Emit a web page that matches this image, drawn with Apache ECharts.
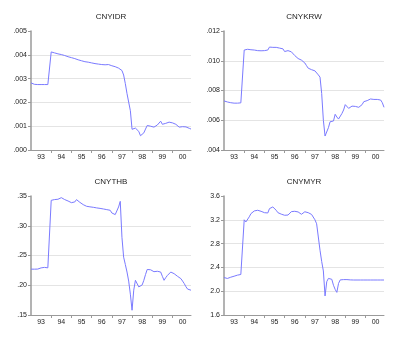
<!DOCTYPE html>
<html>
<head>
<meta charset="utf-8">
<script src="https://cdn.jsdelivr.net/npm/echarts@6/dist/echarts.min.js"></script>
<style>
  html, body { margin: 0; padding: 0; background: #fff; }
  #chart { width: 400px; height: 339px; }
</style>
</head>
<body>
<div id="chart"></div>
<script>
// Monthly exchange rates, 1993M01 - 2000M12 (96 observations each)
const yearLabels = ['93', '94', '95', '96', '97', '98', '99', '00'];

const cnyidr = [
  0.00282, 0.00278, 0.00276, 0.00275, 0.00275, 0.00275, 0.00275, 0.00275, 0.00275, 0.00275, 0.00275, 0.00275,
  0.00412, 0.00410, 0.00408, 0.00406, 0.00404, 0.00403, 0.00401, 0.00399, 0.00397, 0.00395, 0.00392, 0.00390,
  0.00388, 0.00386, 0.00384, 0.00381, 0.00379, 0.00377, 0.00375, 0.00373, 0.00371, 0.00370, 0.00369, 0.00368,
  0.00366, 0.00365, 0.00363, 0.00362, 0.00361, 0.00360, 0.00359, 0.00358, 0.00358, 0.00360, 0.00359, 0.00357,
  0.00354, 0.00352, 0.00350, 0.00347, 0.00344, 0.00340, 0.00334, 0.00315, 0.00279, 0.00237, 0.00234, 0.00165,
  0.00087, 0.00088, 0.00092, 0.00100, 0.00078, 0.00060, 0.00064, 0.00072, 0.00088, 0.00103, 0.00108, 0.00100,
  0.00097, 0.00096, 0.00098, 0.00105, 0.00112, 0.00121, 0.00108, 0.00100, 0.00112, 0.00119, 0.00117, 0.00116,
  0.00114, 0.00111, 0.00108, 0.00102, 0.00096, 0.00094, 0.00098, 0.00100, 0.00097, 0.00094, 0.00091, 0.00088
];

const cnykrw = [
  0.00730, 0.00727, 0.00723, 0.00720, 0.00718, 0.00716, 0.00715, 0.00715, 0.00715, 0.00716, 0.00717, 0.00722,
  0.01072, 0.01076, 0.01077, 0.01076, 0.01074, 0.01073, 0.01072, 0.01070, 0.01068, 0.01066, 0.01067, 0.01068,
  0.01068, 0.01070, 0.01072, 0.01092, 0.01095, 0.01090, 0.01095, 0.01090, 0.01083, 0.01085, 0.01083, 0.01080,
  0.01062, 0.01064, 0.01068, 0.01066, 0.01060, 0.01050, 0.01035, 0.01022, 0.01015, 0.01010, 0.01004, 0.00998,
  0.00985, 0.00967, 0.00950, 0.00938, 0.00940, 0.00938, 0.00932, 0.00925, 0.00905, 0.00890, 0.00780, 0.00600,
  0.00494, 0.00505, 0.00550, 0.00590, 0.00597, 0.00595, 0.00640, 0.00622, 0.00608, 0.00620, 0.00645, 0.00669,
  0.00705, 0.00695, 0.00680, 0.00688, 0.00695, 0.00707, 0.00693, 0.00690, 0.00687, 0.00690, 0.00705, 0.00725,
  0.00730, 0.00732, 0.00738, 0.00743, 0.00741, 0.00740, 0.00740, 0.00740, 0.00738, 0.00736, 0.00718, 0.00687
];

const cnythb = [
  0.2271, 0.2270, 0.2270, 0.2270, 0.2272, 0.2280, 0.2292, 0.2298, 0.2300, 0.2298, 0.2293, 0.2288,
  0.3427, 0.3435, 0.3440, 0.3443, 0.3445, 0.3458, 0.3472, 0.3458, 0.3440, 0.3428, 0.3416, 0.3402,
  0.3388, 0.3372, 0.3400, 0.3439, 0.3415, 0.3394, 0.3372, 0.3355, 0.3340, 0.3327, 0.3322, 0.3318,
  0.3316, 0.3310, 0.3305, 0.3300, 0.3296, 0.3292, 0.3288, 0.3282, 0.3276, 0.3271, 0.3266, 0.3260,
  0.3215, 0.3195, 0.3188, 0.3198, 0.3316, 0.3410, 0.2806, 0.2472, 0.2350, 0.2222, 0.2070, 0.1850,
  0.1580, 0.1917, 0.2083, 0.2111, 0.1972, 0.2000, 0.2005, 0.2083, 0.2180, 0.2265, 0.2278, 0.2260,
  0.2239, 0.2228, 0.2222, 0.2235, 0.2250, 0.2222, 0.2150, 0.2083, 0.2128, 0.2165, 0.2194, 0.2222,
  0.2210, 0.2194, 0.2170, 0.2150, 0.2130, 0.2111, 0.2070, 0.2028, 0.1975, 0.1935, 0.1906, 0.1917
];

const cnymyr = [
  2.230, 2.215, 2.214, 2.225, 2.235, 2.242, 2.252, 2.262, 2.270, 2.278, 2.281, 2.270,
  3.200, 3.164, 3.190, 3.250, 3.304, 3.330, 3.349, 3.355, 3.360, 3.352, 3.343, 3.332,
  3.320, 3.316, 3.315, 3.388, 3.410, 3.416, 3.404, 3.360, 3.320, 3.304, 3.295, 3.287,
  3.276, 3.265, 3.280, 3.310, 3.337, 3.342, 3.343, 3.338, 3.332, 3.310, 3.293, 3.315,
  3.335, 3.343, 3.320, 3.305, 3.290, 3.272, 3.200, 3.133, 2.911, 2.689, 2.500, 2.340,
  1.920, 2.160, 2.215, 2.215, 2.200, 2.100, 2.030, 1.980, 2.130, 2.190, 2.192, 2.195,
  2.195, 2.195, 2.195, 2.190, 2.188, 2.188, 2.188, 2.188, 2.188, 2.188, 2.188, 2.188,
  2.188, 2.188, 2.188, 2.188, 2.188, 2.188, 2.188, 2.188, 2.188, 2.188, 2.188, 2.188
];

const panels = [
  { name: 'CNYIDR', data: cnyidr, min: 0.000, max: 0.005, step: 0.001, digits: 3, left: 31,  top: 31 },
  { name: 'CNYKRW', data: cnykrw, min: 0.004, max: 0.012, step: 0.002, digits: 3, left: 224, top: 31 },
  { name: 'CNYTHB', data: cnythb, min: 0.15,  max: 0.35,  step: 0.05,  digits: 2, left: 31,  top: 196 },
  { name: 'CNYMYR', data: cnymyr, min: 1.6,   max: 3.6,   step: 0.4,   digits: 1, left: 224, top: 196 }
];

const PW = 160, PH = 119;
const FONT = '"Liberation Sans", Arial, sans-serif';
const TXT = '#222';
const AXIS = '#9a9a9a';
const LINE = '#7a7aff';

const yearTicks = [12, 24, 36, 48, 60, 72, 84];
const yearMids = yearLabels.map((_, i) => i * 12 + 6);

function fmtY(v, digits) {
  const s = Number(v).toFixed(digits);
  return s.startsWith('0.') ? s.slice(1) : s;
}

const grids = [], xAxes = [], yAxes = [], series = [], texts = [];
panels.forEach((p, i) => {
  grids.push({ left: p.left, top: p.top, width: PW, height: PH, containLabel: false });
  xAxes.push({
    type: 'value', gridIndex: i, min: 0, max: 95,
    axisLine: { show: true, onZero: false, lineStyle: { color: AXIS, width: 1 } },
    axisTick: { show: true, customValues: yearTicks, length: 3, lineStyle: { color: AXIS } },
    axisLabel: {
      show: true, customValues: yearMids, margin: 4,
      fontFamily: FONT, fontSize: 7, color: TXT,
      formatter: v => yearLabels[Math.round((v - 6) / 12)]
    },
    splitLine: { show: false }
  });
  yAxes.push({
    type: 'value', gridIndex: i, min: p.min, max: p.max, interval: p.step,
    axisLine: { show: true, onZero: false, lineStyle: { color: AXIS, width: 1.5 } },
    axisTick: { show: true, length: 3, lineStyle: { color: AXIS } },
    axisLabel: {
      margin: 4, fontFamily: FONT, fontSize: 7, color: TXT,
      formatter: v => fmtY(v, p.digits)
    },
    splitLine: { show: true, showMinLine: false, showMaxLine: false, lineStyle: { color: '#e4e4e4', width: 1 } }
  });
  series.push({
    type: 'line', xAxisIndex: i, yAxisIndex: i,
    data: p.data.map((v, m) => [m, v]),
    showSymbol: false, symbol: 'none',
    lineStyle: { color: LINE, width: 1 },
    animation: false
  });
  texts.push({
    type: 'text', x: p.left + PW / 2, y: p.top - 14,
    style: { text: p.name, fill: TXT, font: '8px ' + FONT, textAlign: 'center', textVerticalAlign: 'middle' }
  });
});

const chart = echarts.init(document.getElementById('chart'), null, { renderer: 'canvas' });
chart.setOption({
  animation: false,
  backgroundColor: '#fff',
  grid: grids,
  xAxis: xAxes,
  yAxis: yAxes,
  series: series,
  graphic: texts
});
</script>
</body>
</html>
